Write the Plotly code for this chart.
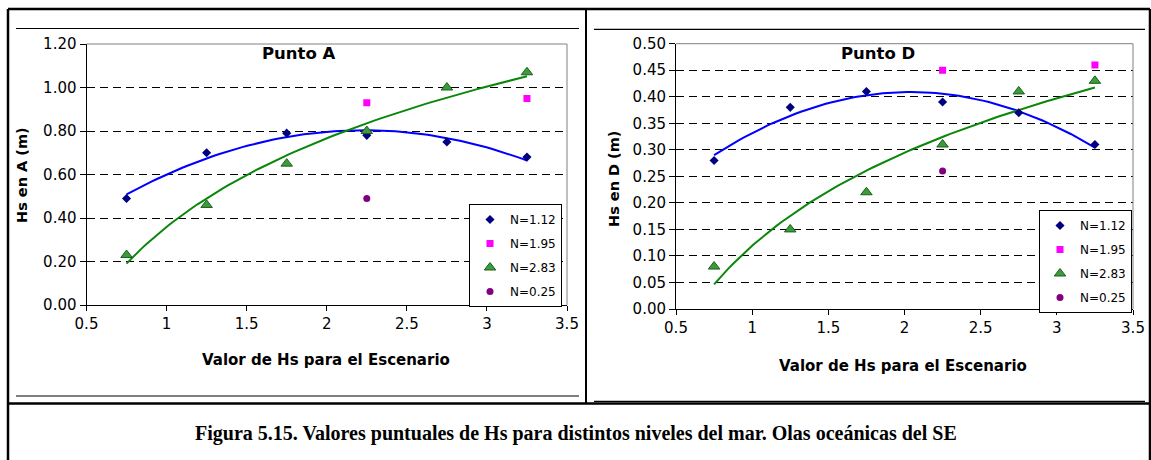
import numpy as np
import plotly.graph_objects as go

W, H = 1151, 460

# Scenario Hs values (x axis)
hs = [0.75, 1.25, 1.75, 2.25, 2.75, 3.25]
hs_n195 = [2.25, 3.25]
hs_n025 = [2.25]

# Punto A: Hs (m) per sea level N
a_n112 = [0.49, 0.70, 0.79, 0.78, 0.75, 0.68]
a_n195 = [0.93, 0.95]
a_n283 = [0.23, 0.46, 0.65, 0.80, 1.00, 1.07]
a_n025 = [0.49]

# Punto D: Hs (m) per sea level N
d_n112 = [0.28, 0.38, 0.41, 0.39, 0.37, 0.31]
d_n195 = [0.45, 0.46]
d_n283 = [0.08, 0.15, 0.22, 0.31, 0.41, 0.43]
d_n025 = [0.26]

series_names = ["N=1.12", "N=1.95", "N=2.83", "N=0.25"]
x_ticks = [0.5, 1, 1.5, 2, 2.5, 3, 3.5]

FONT = "DejaVu Sans, Arial, sans-serif"


def px(x):
    return x / W


def py(y):
    return 1 - y / H


def poly2_trend(x, y, xs):
    c = np.polyfit(x, y, 2)
    return np.polyval(c, xs)


def log_trend(x, y, xs):
    c = np.polyfit(np.log(x), y, 1)
    return c[0] * np.log(xs) + c[1]


xs_fit = np.linspace(min(hs), max(hs), 80)

fig = go.Figure()


def add_panel(xa, ya, legend, n112, n195, n283, n025):
    # second-order polynomial trend for N=1.12, logarithmic trend for N=2.83
    fig.add_trace(go.Scatter(x=xs_fit, y=poly2_trend(hs, n112, xs_fit), mode="lines",
                             line=dict(color="#0000FF", width=2), showlegend=False,
                             xaxis=xa, yaxis=ya, hoverinfo="skip"))
    fig.add_trace(go.Scatter(x=xs_fit, y=log_trend(hs, n283, xs_fit), mode="lines",
                             line=dict(color="#0A870A", width=2), showlegend=False,
                             xaxis=xa, yaxis=ya, hoverinfo="skip"))
    fig.add_trace(go.Scatter(x=hs, y=n112, mode="markers", name=series_names[0],
                             marker=dict(symbol="diamond", size=7, color="#000080"),
                             xaxis=xa, yaxis=ya, legend=legend, legendgroup=legend + "a"))
    fig.add_trace(go.Scatter(x=hs_n195, y=n195, mode="markers", name=series_names[1],
                             marker=dict(symbol="square", size=7, color="#FF00FF"),
                             xaxis=xa, yaxis=ya, legend=legend, legendgroup=legend + "b"))
    fig.add_trace(go.Scatter(x=hs, y=n283, mode="markers", name=series_names[2],
                             marker=dict(symbol="triangle-up", size=10, color="#3C9C3C",
                                         line=dict(color="#1C5E1C", width=1)),
                             xaxis=xa, yaxis=ya, legend=legend, legendgroup=legend + "c"))
    fig.add_trace(go.Scatter(x=hs_n025, y=n025, mode="markers", name=series_names[3],
                             marker=dict(symbol="circle", size=7, color="#800080"),
                             xaxis=xa, yaxis=ya, legend=legend, legendgroup=legend + "d"))


add_panel("x", "y", "legend", a_n112, a_n195, a_n283, a_n025)
add_panel("x2", "y2", "legend2", d_n112, d_n195, d_n283, d_n025)

tickfont = dict(family=FONT, size=15, color="black")
common_x = dict(range=[0.5, 3.5], tickvals=x_ticks, showgrid=False, zeroline=False,
                showline=True, linecolor="black", linewidth=1, ticks="outside",
                ticklen=5, tickcolor="black", tickfont=tickfont)
common_y = dict(showgrid=True, gridcolor="black", griddash="8px,5px", gridwidth=1,
                zeroline=False, showline=True, linecolor="black", linewidth=1,
                ticks="outside", ticklen=6, tickcolor="black", tickformat=".2f",
                tickfont=tickfont)

legend_common = dict(xanchor="right", yanchor="top", bgcolor="white",
                     bordercolor="black", borderwidth=1, tracegroupgap=5,
                     itemwidth=30, font=dict(family=FONT, size=12, color="black"))

fig.update_layout(
    width=W, height=H, margin=dict(l=0, r=0, t=0, b=0, autoexpand=False),
    paper_bgcolor="white", plot_bgcolor="white",
    xaxis=dict(domain=[px(86.5), px(567)], anchor="y", **common_x),
    yaxis=dict(domain=[py(305), py(44)], anchor="x", range=[0, 1.2],
               tickvals=[0, 0.2, 0.4, 0.6, 0.8, 1.0, 1.2], **common_y),
    xaxis2=dict(domain=[px(676), px(1133)], anchor="y2", **common_x),
    yaxis2=dict(domain=[py(309), py(43.7)], anchor="x2", range=[0, 0.5],
                tickvals=[0, 0.05, 0.1, 0.15, 0.2, 0.25, 0.3, 0.35, 0.4, 0.45, 0.5],
                **common_y),
    legend=dict(x=px(562), y=py(204), **legend_common),
    legend2=dict(x=px(1132), y=py(210), **legend_common),
    showlegend=True,
)

# Frame lines around the two panels and the caption
frame = [
    (8, 9, 1150, 9, 2.5), (8, 9, 8, 462, 2.5), (1150, 9, 1150, 462, 2.5),
    (586, 9, 586, 403, 2), (8, 403.5, 1150, 403.5, 2.5),
    (16, 28.5, 579, 28.5, 1.2), (594, 29.3, 1145, 29.3, 1.2),
    (16, 396, 579, 396, 1.2), (594, 401.3, 1145, 401.3, 1.2),
]
shapes = []
for x0, y0, x1, y1, w in frame:
    shapes.append(dict(type="line", xref="paper", yref="paper", x0=px(x0), y0=py(y0),
                       x1=px(x1), y1=py(y1), line=dict(color="black", width=w)))
# Plot area border (top and right edges)
for (l, t, r, b) in [(86.5, 44, 567, 305), (676, 43.7, 1133, 309)]:
    shapes.append(dict(type="line", xref="paper", yref="paper", x0=px(l), y0=py(t),
                       x1=px(r), y1=py(t), line=dict(color="#808080", width=1)))
    shapes.append(dict(type="line", xref="paper", yref="paper", x0=px(r), y0=py(t),
                       x1=px(r), y1=py(b), line=dict(color="#808080", width=1)))
fig.update_layout(shapes=shapes)


def label(text, x, y, font, angle=0):
    return dict(text=text, x=px(x), y=py(y), xref="paper", yref="paper",
                xanchor="center", yanchor="middle", showarrow=False,
                textangle=angle, font=font)


title_font = dict(family=FONT, size=16.5, color="black")
axis_font = dict(family=FONT, size=15, color="black")
ytitle_font = dict(family=FONT, size=14.5, color="black")
caption_font = dict(family="Liberation Serif, Times New Roman, serif", size=20,
                    color="black")
ann = [
    label("<b>Punto A</b>", 299, 53, title_font),
    label("<b>Punto D</b>", 878, 54, title_font),
    label("<b>Valor de Hs para el Escenario</b>", 326, 360, axis_font),
    label("<b>Valor de Hs para el Escenario</b>", 903, 366, axis_font),
    label("<b>Hs en A (m)</b>", 22, 175, ytitle_font, -90),
    label("<b>Hs en D (m)</b>", 614, 179, ytitle_font, -90),
    label("<b>Figura 5.15. Valores puntuales de Hs para distintos niveles del mar. "
          "Olas oceánicas del SE</b>", 576, 433, caption_font),
]
fig.update_layout(annotations=ann)

fig.write_html(
    "out.html",
    post_script="document.body.style.margin='0';document.body.style.overflow='hidden';",
)
